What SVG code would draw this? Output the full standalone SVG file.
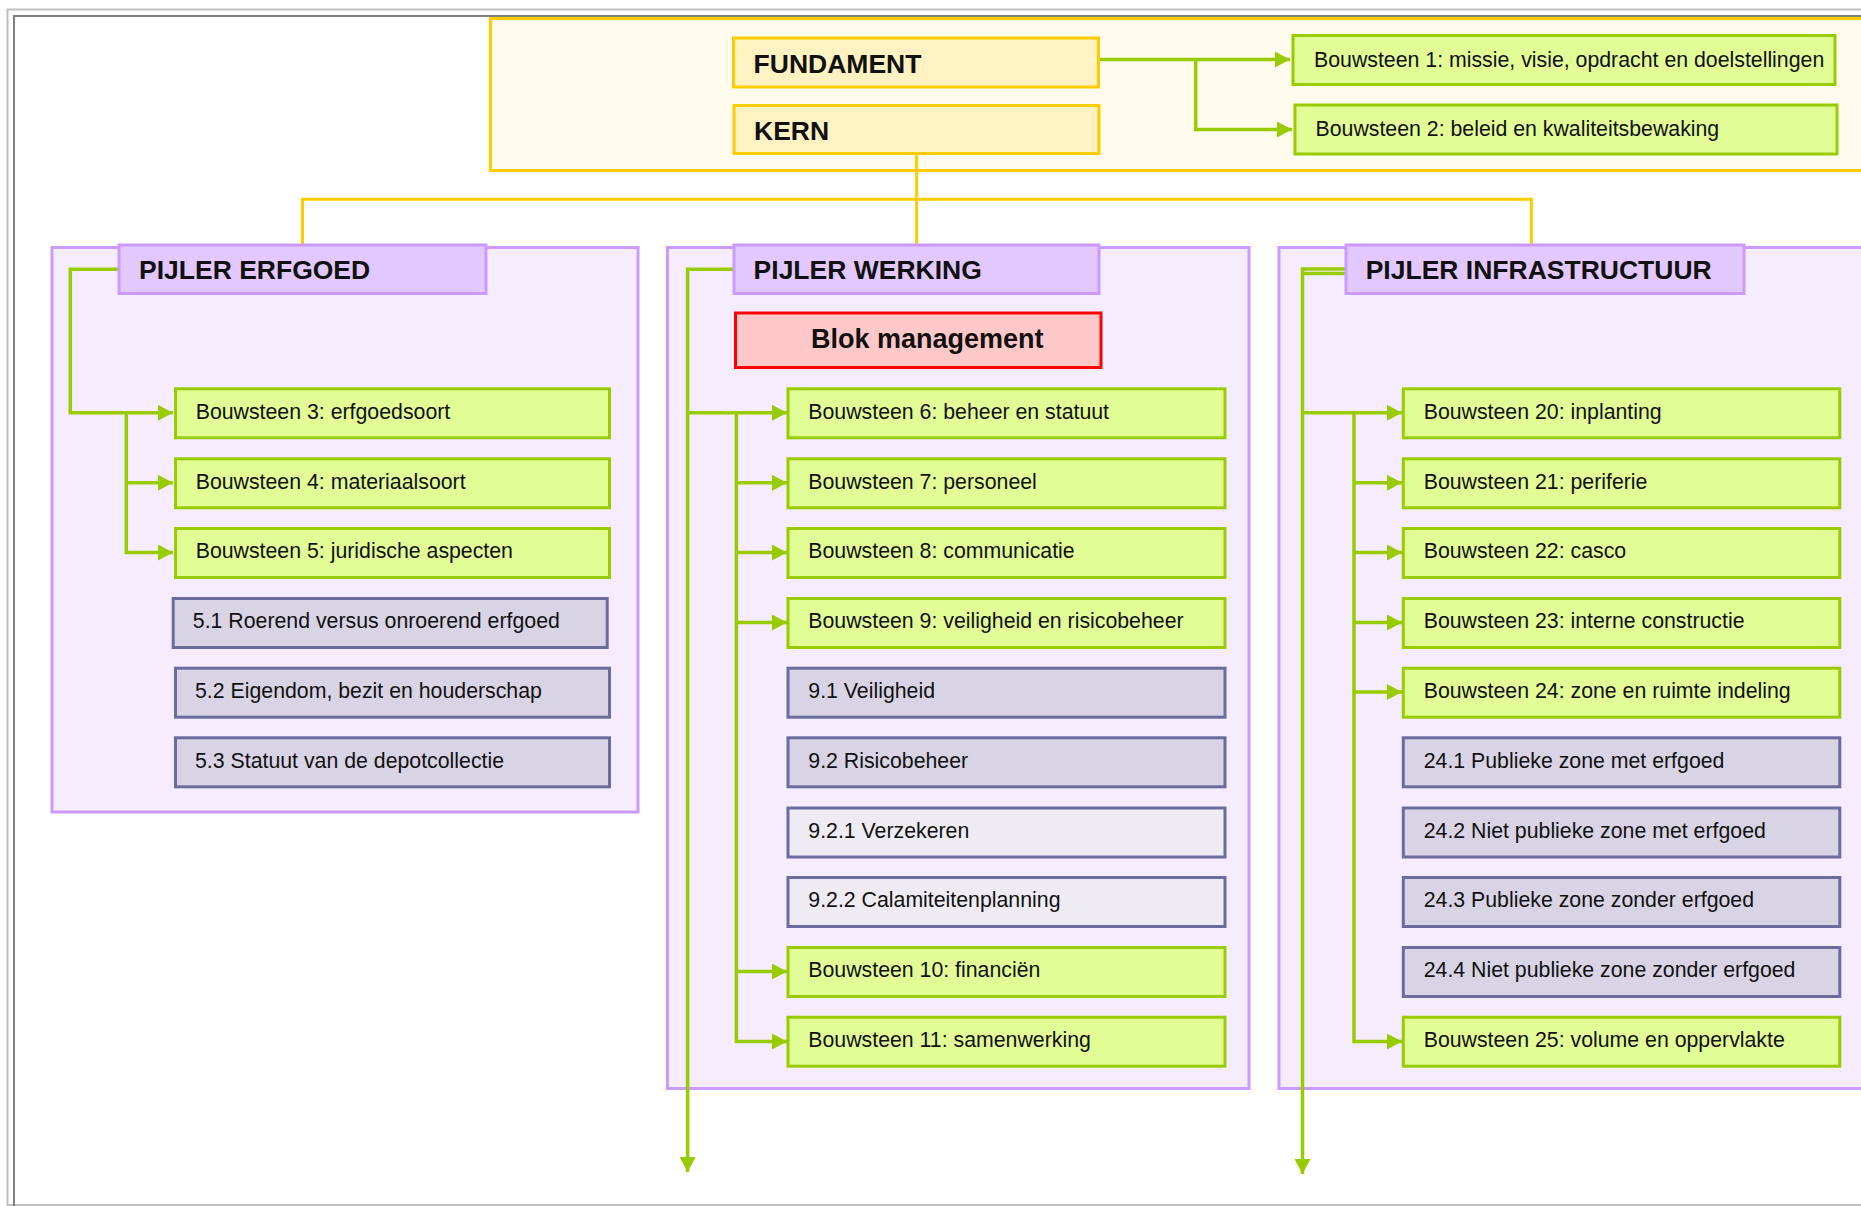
<svg xmlns="http://www.w3.org/2000/svg" width="1861" height="1206" viewBox="0 0 1861 1206">
<defs>
<style>
text{font-family:"Liberation Sans",Arial,sans-serif;fill:#111;}
.t{font-size:21.3px;}
.h{font-size:26.5px;font-weight:bold;}
.bs rect{fill:#E2FC96;stroke:#99CC00;stroke-width:3;}
.sub rect{fill:#D9D4E5;stroke:#6B6B9E;stroke-width:3;}
.sub2 rect{fill:#EEEBF3;stroke:#6B6B9E;stroke-width:3;}
.pc rect{fill:#F5ECFE;stroke:#CC99FF;stroke-width:3;}
.ph rect{fill:#E2C8FE;stroke:#CC99FF;stroke-width:3;}
.core rect{fill:#FFF2C2;stroke:#FFCC00;stroke-width:3;}
.g{fill:none;stroke:#99CC00;stroke-width:3.5;}
.y{fill:none;stroke:#FFCC00;stroke-width:3;}
</style>
<marker id="arr" markerUnits="userSpaceOnUse" markerWidth="16" markerHeight="16" refX="15" refY="8" orient="auto">
<path d="M0,0 L15,8 L0,16 z" fill="#99CC00"/>
</marker>
</defs>
<rect x="0" y="0" width="1861" height="1206" fill="#fff"/>
<rect x="7.5" y="9.5" width="1900" height="1195.5" fill="none" stroke="#C0C0C0" stroke-width="2"/>
<rect x="14" y="16" width="1900" height="1220" fill="none" stroke="#808080" stroke-width="2"/>

<g id="fundament-container"><rect x="490.5" y="18.5" width="1400" height="152" fill="#FFFCEE" stroke="#FFCC00" stroke-width="3"/></g>

<g id="pijler-erfgoed-container" class="pc"><rect x="52" y="247.5" width="586" height="564.5"/></g>
<g id="pijler-werking-container" class="pc"><rect x="667.5" y="247.5" width="581.5" height="841"/></g>
<g id="pijler-infra-container" class="pc"><rect x="1279" y="247.5" width="640" height="841"/></g>

<g id="connectors">
<path class="y" d="M916.6,155 V244"/>
<path class="y" d="M302.5,244 V199.3 H1531.4 V244"/>
<path class="g" d="M1100,59.5 H1290" marker-end="url(#arr)"/>
<path class="g" d="M1195.7,59.5 V129.5 H1292" marker-end="url(#arr)"/>

<path class="g" d="M119,269.3 H70.3 V412.8 H173" marker-end="url(#arr)"/>
<path class="g" d="M126.3,412.8 V552.5 H173" marker-end="url(#arr)"/>
<path class="g" d="M126.3,482.8 H173" marker-end="url(#arr)"/>

<path class="g" d="M734,269.3 H687.6 V1172" marker-end="url(#arr)"/>
<path class="g" d="M687.6,412.8 H787" marker-end="url(#arr)"/>
<path class="g" d="M736.4,412.8 V1041.5 H787" marker-end="url(#arr)"/>
<path class="g" d="M736.4,482.8 H787" marker-end="url(#arr)"/>
<path class="g" d="M736.4,552.5 H787" marker-end="url(#arr)"/>
<path class="g" d="M736.4,622.5 H787" marker-end="url(#arr)"/>
<path class="g" d="M736.4,971.5 H787" marker-end="url(#arr)"/>

<path class="g" d="M1346,269 H1302.5 V1174" marker-end="url(#arr)"/>
<path class="g" d="M1346,273.5 H1302.5" stroke-width="3"/>
<path class="g" d="M1302.5,412.8 H1402" marker-end="url(#arr)"/>
<path class="g" d="M1354,412.8 V1041.5 H1402" marker-end="url(#arr)"/>
<path class="g" d="M1354,482.8 H1402" marker-end="url(#arr)"/>
<path class="g" d="M1354,552.5 H1402" marker-end="url(#arr)"/>
<path class="g" d="M1354,622.5 H1402" marker-end="url(#arr)"/>
<path class="g" d="M1354,692 H1402" marker-end="url(#arr)"/>
</g>

<g id="fundament" class="core"><rect x="733.5" y="38" width="365" height="49"/><text class="h" x="753.6" y="72.7">FUNDAMENT</text></g>
<g id="kern" class="core"><rect x="734" y="105.5" width="365" height="48"/><text class="h" x="754" y="140">KERN</text></g>
<g id="bouwsteen-1" class="bs"><rect x="1293" y="35.5" width="542" height="49"/><text class="t" x="1314" y="66.5">Bouwsteen 1: missie, visie, opdracht en doelstellingen</text></g>
<g id="bouwsteen-2" class="bs"><rect x="1295" y="105" width="542" height="49"/><text class="t" x="1315.5" y="136">Bouwsteen 2: beleid en kwaliteitsbewaking</text></g>

<g id="pijler-erfgoed" class="ph"><rect x="119" y="245" width="367" height="48.5"/><text class="h" x="139" y="279">PIJLER ERFGOED</text></g>
<g id="pijler-werking" class="ph"><rect x="734" y="245" width="365" height="48.5"/><text class="h" x="753.6" y="279">PIJLER WERKING</text></g>
<g id="pijler-infrastructuur" class="ph"><rect x="1346" y="245" width="398" height="48.5"/><text class="h" x="1365.7" y="279">PIJLER INFRASTRUCTUUR</text></g>

<g id="blok-management"><rect x="735.5" y="313" width="365.5" height="54.5" fill="#FFC8C8" stroke="#FF0000" stroke-width="3"/><text class="h" x="811" y="347.7" style="font-size:27px">Blok management</text></g>

<g id="bouwsteen-3" class="bs"><rect x="175.5" y="388.8" width="434" height="49"/><text class="t" x="195.7" y="418.5">Bouwsteen 3: erfgoedsoort</text></g>
<g id="bouwsteen-4" class="bs"><rect x="175.5" y="458.8" width="434" height="49"/><text class="t" x="195.7" y="488.5">Bouwsteen 4: materiaalsoort</text></g>
<g id="bouwsteen-5" class="bs"><rect x="175.5" y="528.5" width="434" height="49"/><text class="t" x="195.7" y="558">Bouwsteen 5: juridische aspecten</text></g>
<g id="sub-5-1" class="sub"><rect x="173.2" y="598.5" width="434" height="49"/><text class="t" x="192.8" y="628">5.1 Roerend versus onroerend erfgoed</text></g>
<g id="sub-5-2" class="sub"><rect x="175.5" y="668.2" width="434" height="49"/><text class="t" x="195" y="698">5.2 Eigendom, bezit en houderschap</text></g>
<g id="sub-5-3" class="sub"><rect x="175.5" y="737.8" width="434" height="49"/><text class="t" x="195" y="767.5">5.3 Statuut van de depotcollectie</text></g>

<g id="bouwsteen-6" class="bs"><rect x="788" y="388.8" width="437" height="49"/><text class="t" x="808.3" y="418.5">Bouwsteen 6: beheer en statuut</text></g>
<g id="bouwsteen-7" class="bs"><rect x="788" y="458.8" width="437" height="49"/><text class="t" x="808.3" y="488.5">Bouwsteen 7: personeel</text></g>
<g id="bouwsteen-8" class="bs"><rect x="788" y="528.5" width="437" height="49"/><text class="t" x="808.3" y="558">Bouwsteen 8: communicatie</text></g>
<g id="bouwsteen-9" class="bs"><rect x="788" y="598.5" width="437" height="49"/><text class="t" x="808.3" y="628">Bouwsteen 9: veiligheid en risicobeheer</text></g>
<g id="sub-9-1" class="sub"><rect x="788" y="668.2" width="437" height="49"/><text class="t" x="808.3" y="698">9.1 Veiligheid</text></g>
<g id="sub-9-2" class="sub"><rect x="788" y="737.8" width="437" height="49"/><text class="t" x="808.3" y="767.5">9.2 Risicobeheer</text></g>
<g id="sub-9-2-1" class="sub2"><rect x="788" y="808" width="437" height="49"/><text class="t" x="808.3" y="837.5">9.2.1 Verzekeren</text></g>
<g id="sub-9-2-2" class="sub2"><rect x="788" y="877.5" width="437" height="49"/><text class="t" x="808.3" y="907">9.2.2 Calamiteitenplanning</text></g>
<g id="bouwsteen-10" class="bs"><rect x="788" y="947.5" width="437" height="49"/><text class="t" x="808.3" y="977">Bouwsteen 10: financiën</text></g>
<g id="bouwsteen-11" class="bs"><rect x="788" y="1017.2" width="437" height="49"/><text class="t" x="808.3" y="1047">Bouwsteen 11: samenwerking</text></g>

<g id="bouwsteen-20" class="bs"><rect x="1403.3" y="388.8" width="436.5" height="49"/><text class="t" x="1423.7" y="418.5">Bouwsteen 20: inplanting</text></g>
<g id="bouwsteen-21" class="bs"><rect x="1403.3" y="458.8" width="436.5" height="49"/><text class="t" x="1423.7" y="488.5">Bouwsteen 21: periferie</text></g>
<g id="bouwsteen-22" class="bs"><rect x="1403.3" y="528.5" width="436.5" height="49"/><text class="t" x="1423.7" y="558">Bouwsteen 22: casco</text></g>
<g id="bouwsteen-23" class="bs"><rect x="1403.3" y="598.5" width="436.5" height="49"/><text class="t" x="1423.7" y="628">Bouwsteen 23: interne constructie</text></g>
<g id="bouwsteen-24" class="bs"><rect x="1403.3" y="668.2" width="436.5" height="49"/><text class="t" x="1423.7" y="698">Bouwsteen 24: zone en ruimte indeling</text></g>
<g id="sub-24-1" class="sub"><rect x="1403.3" y="737.8" width="436.5" height="49"/><text class="t" x="1423.7" y="767.5">24.1 Publieke zone met erfgoed</text></g>
<g id="sub-24-2" class="sub"><rect x="1403.3" y="808" width="436.5" height="49"/><text class="t" x="1423.7" y="837.5">24.2 Niet publieke zone met erfgoed</text></g>
<g id="sub-24-3" class="sub"><rect x="1403.3" y="877.5" width="436.5" height="49"/><text class="t" x="1423.7" y="907">24.3 Publieke zone zonder erfgoed</text></g>
<g id="sub-24-4" class="sub"><rect x="1403.3" y="947.5" width="436.5" height="49"/><text class="t" x="1423.7" y="977">24.4 Niet publieke zone zonder erfgoed</text></g>
<g id="bouwsteen-25" class="bs"><rect x="1403.3" y="1017.2" width="436.5" height="49"/><text class="t" x="1423.7" y="1047">Bouwsteen 25: volume en oppervlakte</text></g>
</svg>
